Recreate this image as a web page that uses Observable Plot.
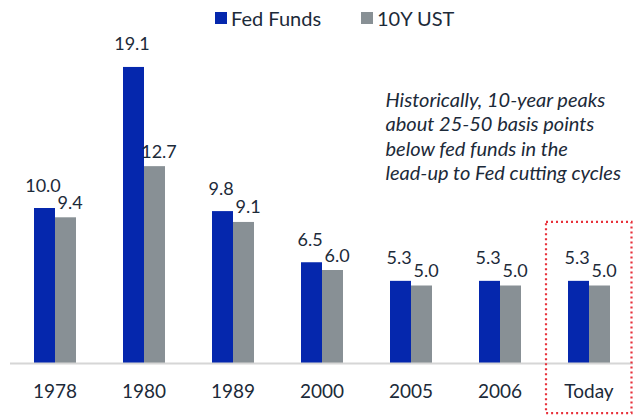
<!DOCTYPE html>
<html>
<head>
<meta charset="utf-8">
<script src="https://cdn.jsdelivr.net/npm/d3@7"></script>
<script src="https://cdn.jsdelivr.net/npm/@observablehq/plot@0.6"></script>
<style>
  html, body { margin: 0; padding: 0; background: #fff; }
  body { width: 634px; height: 415px; overflow: hidden; font-family: Lato, "Open Sans", sans-serif; color: #1c2a39; }
  #wrap { position: relative; width: 634px; height: 415px; }
  #legend { position: relative; height: 36px; font-size: 20px; }
  .item { position: absolute; top: 6px; display: flex; align-items: center; gap: 4px; white-space: nowrap; }
  .sw { width: 12px; height: 12px; display: inline-block; }
</style>
</head>
<body>
<div id="wrap">
  <div id="legend"></div>
  <div id="chart"></div>
</div>
<script>
const categories = ["1978", "1980", "1989", "2000", "2005", "2006", "Today"];
const seriesNames = ["Fed Funds", "10Y UST"];
const fedFunds = [10.0, 19.1, 9.8, 6.5, 5.3, 5.3, 5.3];
const ust10y = [9.4, 12.7, 9.1, 6.0, 5.0, 5.0, 5.0];
const colors = ["#0527ad", "#889095"];
const note = "Historically, 10-year peaks\nabout 25-50 basis points\nbelow fed funds in the\nlead-up to Fed cutting cycles";
const highlight = "Today";

const data = [];
categories.forEach((c, i) => {
  data.push({cat: c, series: seriesNames[0], value: fedFunds[i]});
  data.push({cat: c, series: seriesNames[1], value: ust10y[i]});
});

// legend
const legend = document.getElementById("legend");
const legendX = [215, 361];
seriesNames.forEach((s, i) => {
  const d = document.createElement("div");
  d.className = "item";
  d.style.left = legendX[i] + "px";
  d.innerHTML = `<span class="sw" style="background:${colors[i]}"></span><span>${s}</span>`;
  legend.appendChild(d);
});

const textColor = "#1c2a39";
const chart = Plot.plot({
  width: 634,
  height: 379,
  marginLeft: 8,
  marginRight: 0,
  marginTop: 17,
  marginBottom: 52,
  style: {fontFamily: "Lato, 'Open Sans', sans-serif", color: textColor, background: "#fff", overflow: "visible"},
  fx: {domain: categories, paddingInner: 0, paddingOuter: 0, label: null},
  x: {domain: seriesNames, paddingInner: 0, paddingOuter: 1.08, axis: null},
  y: {domain: [0, 20], axis: null},
  color: {domain: seriesNames, range: colors},
  marks: [
    Plot.axisFx({anchor: "bottom", tickSize: 0, tickPadding: 21, fontSize: 19, label: null, fill: textColor}),
    Plot.barY(data, {fx: "cat", x: "series", y: "value", fill: "series"}),
    Plot.ruleY([0], {stroke: "#d6d6d6", strokeWidth: 2}),
    Plot.text(data.filter(d => d.series === seriesNames[0]), {fx: "cat", x: "series", y: "value", text: d => d.value.toFixed(1), lineAnchor: "bottom", dy: -17, dx: -2, fontSize: 18, fill: textColor}),
    Plot.text(data.filter(d => d.series === seriesNames[1]), {fx: "cat", x: "series", y: "value", text: d => d.value.toFixed(1), lineAnchor: "bottom", dy: -9, dx: 4, fontSize: 18, fill: textColor}),
    Plot.rect([{cat: highlight, y1: -3.23, y2: 9.1}], {fx: "cat", y1: "y1", y2: "y2", fill: "none", stroke: "#e8303a", strokeWidth: 2.2, strokeDasharray: "2,3", insetLeft: 2, insetRight: 1.5}),
    Plot.text([note], {fx: [categories[0]], frameAnchor: "top-left", textAnchor: "start", lineAnchor: "top", dx: 375, dy: 36, fontSize: 20, fontStyle: "italic", lineHeight: 1.225, fill: textColor})
  ]
});
document.getElementById("chart").appendChild(chart);
</script>
</body>
</html>
